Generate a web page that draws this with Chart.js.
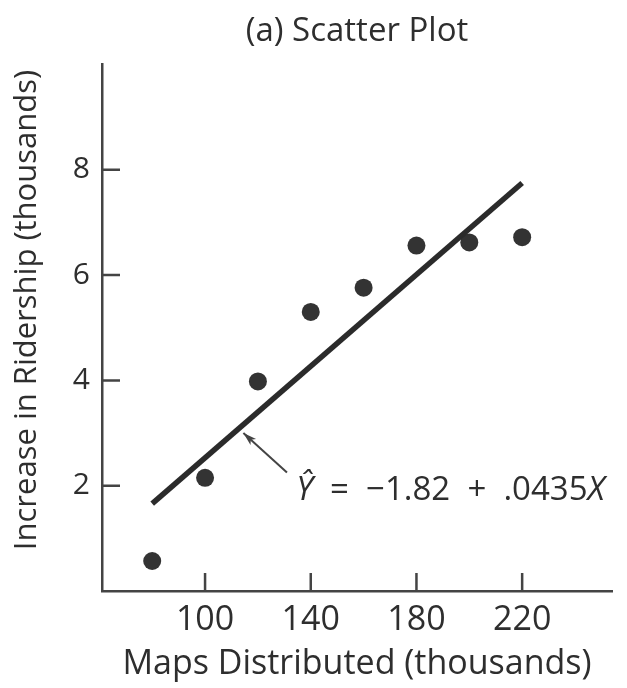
<!DOCTYPE html>
<html>
<head>
<meta charset="utf-8">
<script src="https://cdn.jsdelivr.net/npm/chart.js@4"></script>
<style>
  body { margin: 0; background: #fff; }
</style>
</head>
<body>
<canvas id="myChart" width="627" height="688"></canvas>
<script>
// data
const mapsX = [80, 100, 120, 140, 160, 180, 200, 220];
const riderY = [0.57, 2.15, 3.98, 5.30, 5.76, 6.56, 6.62, 6.72];
const fitX = [80, 220];
const fitY = [1.66, 7.75];
const xTicks = [100, 140, 180, 220];
const yTicks = [2, 4, 6, 8];

const ink = '#2e2e2e';
const fontFam = "'Open Sans', 'DejaVu Sans', sans-serif";

// inward tick marks, y axis title, equation + arrow
const extras = {
    id: 'extras',
    afterDraw(chart) {
        const { ctx, chartArea, scales: { x, y } } = chart;
        ctx.save();
        ctx.strokeStyle = '#444';
        ctx.lineWidth = 2.5;
        ctx.beginPath();
        xTicks.forEach(v => {
            const px = x.getPixelForValue(v);
            ctx.moveTo(px, chartArea.bottom);
            ctx.lineTo(px, chartArea.bottom - 18);
        });
        yTicks.forEach(v => {
            const py = y.getPixelForValue(v);
            ctx.moveTo(chartArea.left, py);
            ctx.lineTo(chartArea.left + 18, py);
        });
        ctx.stroke();

        // y axis title
        ctx.fillStyle = ink;
        ctx.font = '31px ' + fontFam;
        ctx.textAlign = 'center';
        ctx.textBaseline = 'middle';
        ctx.save();
        ctx.translate(27, 310);
        ctx.rotate(-Math.PI / 2);
        ctx.fillText('Increase in Ridership (thousands)', 0, 0);
        ctx.restore();

        // arrow from label to fitted line
        const tx = x.getPixelForValue(131), ty = y.getPixelForValue(2.25);
        const hx = x.getPixelForValue(114.5), hy = y.getPixelForValue(3.0);
        ctx.lineWidth = 2;
        ctx.beginPath();
        ctx.moveTo(tx, ty);
        ctx.lineTo(hx, hy);
        ctx.stroke();
        const ang = Math.atan2(hy - ty, hx - tx);
        ctx.fillStyle = '#444';
        ctx.beginPath();
        ctx.moveTo(hx, hy);
        ctx.lineTo(hx - 14 * Math.cos(ang - 0.3), hy - 14 * Math.sin(ang - 0.3));
        ctx.lineTo(hx - 10 * Math.cos(ang), hy - 10 * Math.sin(ang));
        ctx.lineTo(hx - 14 * Math.cos(ang + 0.3), hy - 14 * Math.sin(ang + 0.3));
        ctx.closePath();
        ctx.fill();

        // equation
        let ex = x.getPixelForValue(134.5);
        const ey = y.getPixelForValue(1.72);
        ctx.fillStyle = ink;
        ctx.textAlign = 'left';
        ctx.textBaseline = 'alphabetic';
        const parts = [
            ['italic', '\u0176'],
            ['normal', '  =  \u22121.82  +  .0435'],
            ['italic', 'X']
        ];
        parts.forEach(([style, s]) => {
            ctx.font = style + ' 33px ' + fontFam;
            ctx.fillText(s, ex, ey);
            ex += ctx.measureText(s).width;
        });
        ctx.restore();
    }
};

const ctx = document.getElementById('myChart').getContext('2d');
const myChart = new Chart(ctx, {
    data: {
        datasets: [
            {
                type: 'line',
                data: fitX.map((v, i) => ({ x: v, y: fitY[i] })),
                borderColor: '#2b2b2b',
                borderWidth: 5.5,
                pointRadius: 0,
                fill: false
            },
            {
                type: 'scatter',
                data: mapsX.map((v, i) => ({ x: v, y: riderY[i] })),
                backgroundColor: '#333',
                borderWidth: 0,
                pointRadius: 9
            }
        ]
    },
    options: {
        responsive: false,
        animation: false,
        layout: { padding: { left: 0, right: 15, top: 0, bottom: 0 } },
        scales: {
            x: {
                type: 'linear',
                min: 61,
                max: 254,
                afterBuildTicks: s => { s.ticks = xTicks.map(v => ({ value: v })); },
                afterFit: s => { s.height = 97; },
                grid: { display: false, drawTicks: false },
                border: { display: true, color: '#444', width: 2.5 },
                ticks: {
                    padding: 9,
                    color: ink,
                    font: { family: fontFam, size: 34 }
                },
                title: {
                    display: true,
                    text: 'Maps Distributed (thousands)',
                    color: ink,
                    font: { family: fontFam, size: 34 },
                    padding: { top: 0, bottom: 3 }
                }
            },
            y: {
                type: 'linear',
                min: 0,
                max: 10,
                afterBuildTicks: s => { s.ticks = yTicks.map(v => ({ value: v })); },
                afterFit: s => { s.width = 102; },
                grid: { display: false, drawTicks: false },
                border: { display: true, color: '#444', width: 2.5 },
                ticks: {
                    padding: 12,
                    color: ink,
                    font: { family: fontFam, size: 30 }
                }
            }
        },
        plugins: {
            legend: { display: false },
            tooltip: { enabled: false },
            title: {
                display: true,
                fullSize: false,
                text: '(a) Scatter Plot',
                color: ink,
                font: { family: fontFam, size: 33, weight: 'normal' },
                padding: { top: 11.6, bottom: 13.3 }
            }
        }
    },
    plugins: [extras]
});
</script>
</body>
</html>
